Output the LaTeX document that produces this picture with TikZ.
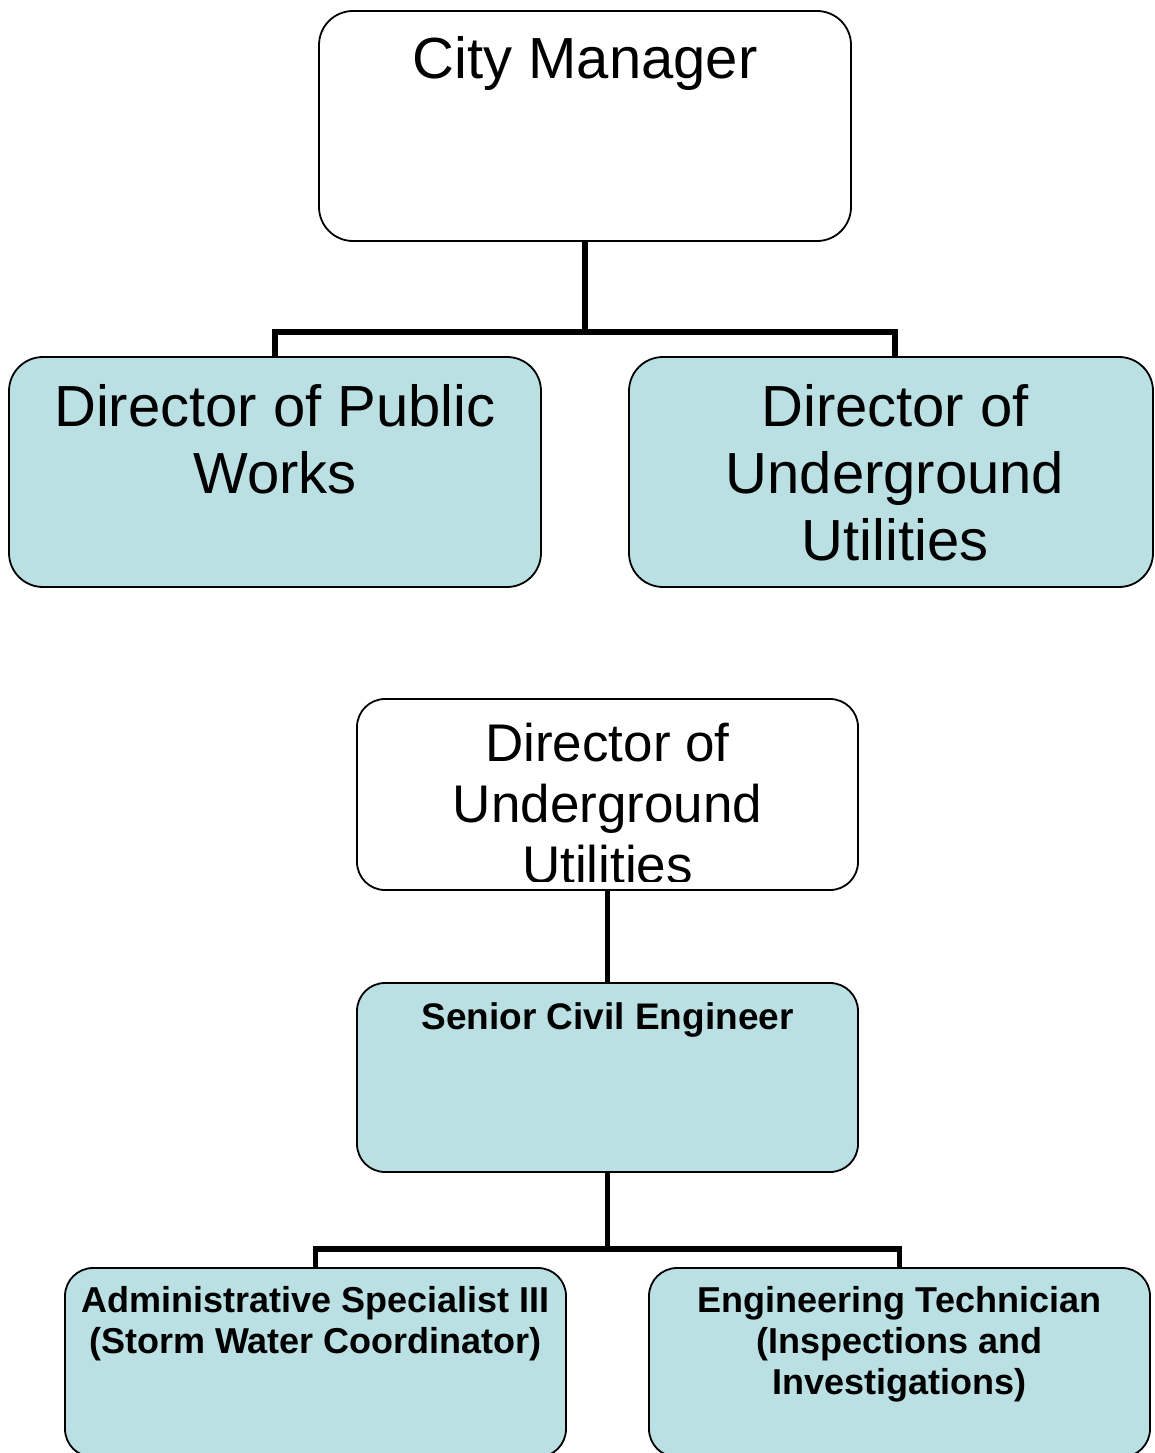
\documentclass[tikz,border=0pt]{standalone}
\usepackage{fontspec}
\setmainfont{Liberation Sans}
\definecolor{boxblue}{RGB}{186,224,227}
\begin{document}
\begin{tikzpicture}[x=1pt,y=-1pt,
  box/.style={draw=black, line width=1.8pt, inner sep=0pt},
  bigbox/.style={box, rounded corners=34pt, minimum height=230pt},
  smallbox/.style={box, rounded corners=28pt, minimum width=501pt},
  conn/.style={draw=black, line width=5.5pt},
  bigtext/.style={font=\fontsize{58}{67}\selectfont, align=center, anchor=base, inner sep=0pt},
  midtext/.style={font=\fontsize{53}{61}\selectfont, align=center, anchor=base, inner sep=0pt},
  boldtext/.style={font=\bfseries\fontsize{36}{41}\selectfont, align=center, anchor=base, inner sep=0pt}]
\useasboundingbox (0,0) rectangle (1154,1453);
\clip (0,0) rectangle (1154,1453);
\fill[white] (0,0) rectangle (1154,1453);

% top chart
\node[bigbox, fill=white, minimum width=532pt] (cm) at (585,126) {};
\node[bigbox, fill=boxblue, minimum width=532pt] (dpw) at (275,472) {};
\node[bigbox, fill=boxblue, minimum width=524pt] (dug) at (891,472) {};
\coordinate (bus1) at (585,332);
\coordinate (dugtop) at (895,357);
\draw[conn] (cm.south) -- (bus1);
\draw[conn] (dpw.north) -- (dpw.north |- bus1) -- (bus1 -| dugtop) -- (dugtop);

\node[bigtext] (tcm) at (585,79) {City Manager};
\node[bigtext] (tdpw) at (275,493) {Director of Public\\Works};
\node[bigtext] (tdug) at (895,560) {Director of\\Underground\\Utilities};

% bottom chart
\node[smallbox, fill=white, minimum height=191pt] (dug2) at (607.5,794.5) {};
\node[smallbox, fill=boxblue, minimum height=189pt] (sce) at (607.5,1077.5) {};
\node[smallbox, fill=boxblue, minimum height=189pt] (adm) at (315.5,1362.5) {};
\node[smallbox, fill=boxblue, minimum height=189pt] (eng) at (899.5,1362.5) {};
\coordinate (bus2) at (607.5,1249);
\draw[conn] (dug2.south) -- (sce.north);
\draw[conn] (sce.south) -- (bus2);
\draw[conn] (adm.north) -- (adm.north |- bus2) -- (bus2 -| eng.north) -- (eng.north);

\begin{scope}
\clip (357,699) rectangle (858,881);
\node[midtext] (tdug2) at (607.5,883) {Director of\\Underground\\Utilities};
\end{scope}
\node[boldtext, font=\bfseries\fontsize{37}{41}\selectfont] (tsce) at (607.5,1029) {Senior Civil Engineer};
\node[boldtext] (tadm) at (315.5,1353) {Administrative Specialist III\\(Storm Water Coordinator)};
\node[boldtext] (teng) at (899.5,1394) {Engineering Technician\\(Inspections and\\Investigations)};
\end{tikzpicture}
\end{document}
